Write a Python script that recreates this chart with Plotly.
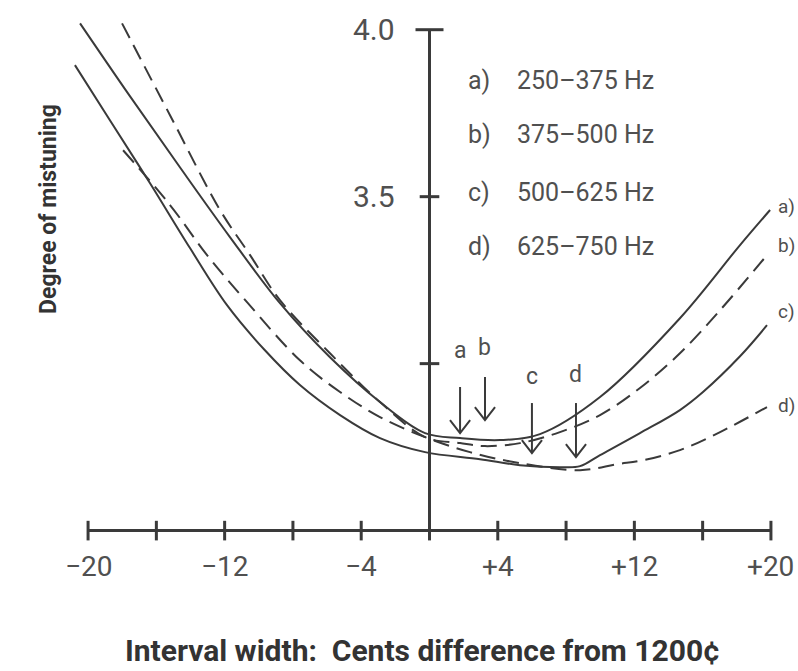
import plotly.graph_objects as go

# ---- data ----
a_x = [-20.47, -17.55, -14.62, -11.69, -8.76, -5.83, -2.90, -0.26, 1.79, 4.14, 6.47, 9.99, 14.67, 18.19, 19.95]
a_y = [4.019, 3.801, 3.588, 3.379, 3.181, 3.019, 2.885, 2.792, 2.777, 2.771, 2.789, 2.900, 3.136, 3.355, 3.460]

b_x = [-18.01, -15.20, -12.27, -10.51, -8.76, -5.83, -2.90, -0.26, 1.79, 3.25, 5.30, 7.64, 9.99, 12.33, 14.67, 17.02, 19.77]
b_y = [4.019, 3.744, 3.460, 3.325, 3.190, 3.031, 2.885, 2.780, 2.762, 2.753, 2.762, 2.795, 2.846, 2.927, 3.031, 3.160, 3.325]

c_x = [-20.77, -18.72, -16.37, -14.03, -11.86, -9.64, -7.59, -5.24, -2.90, -0.26, 2.96, 5.30, 7.64, 8.82, 9.99, 12.33, 14.67, 16.02, 18.19, 19.77]
c_y = [3.894, 3.729, 3.540, 3.346, 3.175, 3.040, 2.936, 2.846, 2.777, 2.735, 2.714, 2.696, 2.690, 2.693, 2.726, 2.792, 2.861, 2.915, 3.022, 3.115]

d_x = [-17.95, -15.20, -13.03, -10.69, -7.59, -5.24, -2.90, -0.26, 2.37, 5.30, 8.82, 10.98, 12.51, 14.67, 17.02, 19.77]
d_y = [3.639, 3.475, 3.325, 3.184, 3.010, 2.915, 2.840, 2.780, 2.735, 2.702, 2.681, 2.699, 2.711, 2.741, 2.795, 2.870]

x_ticks = [-20, -16, -12, -8, -4, 0, 4, 8, 12, 16, 20]
x_tick_labels = ["\u221220", "", "\u221212", "", "\u22124", "", "+4", "", "+12", "", "+20"]
y_ticks = [3.0, 3.5, 4.0]
y_tick_labels = ["", "3.5", "4.0"]

legend_keys = ["a)", "b)", "c)", "d)"]
legend_ranges = ["250\u2013375 Hz", "375\u2013500 Hz", "500\u2013625 Hz", "625\u2013750 Hz"]
legend_y = [3.848, 3.686, 3.511, 3.350]

end_labels = ["a)", "b)", "c)", "d)"]
end_label_y = [3.47, 3.355, 3.157, 2.876]

arrow_labels = ["a", "b", "c", "d"]
arrow_x = [1.79, 3.25, 6.00, 8.58]
arrow_top = [2.930, 2.960, 2.882, 2.882]
arrow_tip = [2.792, 2.831, 2.732, 2.720]
arrow_label_y = [3.040, 3.049, 2.960, 2.966]

x_axis_y = 2.5
y_axis_x = 0.0

FONT = "Roboto, Liberation Sans, sans-serif"
LINE = "#3a3a3a"
TEXT = "#505050"

fig = go.Figure()


def curve(x, y, dash):
    fig.add_trace(go.Scatter(x=x, y=y, mode="lines",
                             line=dict(color=LINE, width=2, dash=dash, shape="spline", smoothing=1.0),
                             hoverinfo="skip", showlegend=False))


curve(a_x, a_y, "solid")
curve(b_x, b_y, "16px,8px")
curve(c_x, c_y, "solid")
curve(d_x, d_y, "16px,8px")

# axes drawn at the origin
fig.add_trace(go.Scatter(x=[x_ticks[0], x_ticks[-1]], y=[x_axis_y, x_axis_y], mode="lines",
                         line=dict(color=LINE, width=3), hoverinfo="skip", showlegend=False))
fig.add_trace(go.Scatter(x=[y_axis_x, y_axis_x], y=[x_axis_y, y_ticks[-1]], mode="lines",
                         line=dict(color=LINE, width=3), hoverinfo="skip", showlegend=False))
fig.add_trace(go.Scatter(x=x_ticks, y=[x_axis_y] * len(x_ticks), mode="markers",
                         marker=dict(symbol="line-ns-open", size=14, color=LINE, line=dict(color=LINE, width=3)),
                         hoverinfo="skip", showlegend=False))
fig.add_trace(go.Scatter(x=[y_axis_x] * (len(y_ticks) - 1), y=y_ticks[:-1], mode="markers",
                         marker=dict(symbol="line-ew-open", size=14, color=LINE, line=dict(color=LINE, width=3)),
                         hoverinfo="skip", showlegend=False))
fig.add_trace(go.Scatter(x=[y_axis_x], y=[y_ticks[-1]], mode="markers",
                         marker=dict(symbol="line-ew-open", size=20, color=LINE, line=dict(color=LINE, width=3)),
                         hoverinfo="skip", showlegend=False))

# arrows
for xa, yt, yb in zip(arrow_x, arrow_top, arrow_tip):
    fig.add_trace(go.Scatter(x=[xa, xa, None, xa - 0.59, xa, xa + 0.59],
                             y=[yt, yb, None, yb + 0.039, yb, yb + 0.039], mode="lines",
                             line=dict(color=LINE, width=2), hoverinfo="skip", showlegend=False))

ann = []
for v, t in zip(x_ticks, x_tick_labels):
    if t:
        ann.append(dict(x=v, y=x_axis_y, xref="x", yref="y", text=t, showarrow=False,
                        yshift=-36, font=dict(family=FONT, size=28, color=TEXT)))
for v, t in zip(y_ticks, y_tick_labels):
    if t:
        ann.append(dict(x=y_axis_x, y=v, xref="x", yref="y", text=t, showarrow=False,
                        xanchor="right", xshift=-33, font=dict(family=FONT, size=30, color=TEXT)))
for k, r, yy in zip(legend_keys, legend_ranges, legend_y):
    ann.append(dict(x=2.13, y=yy, xref="x", yref="y", text=k, showarrow=False, xanchor="left",
                    font=dict(family=FONT, size=25, color=TEXT)))
    ann.append(dict(x=5.0, y=yy, xref="x", yref="y", text=r, showarrow=False, xanchor="left",
                    font=dict(family=FONT, size=25, color=TEXT)))
for t, yy in zip(end_labels, end_label_y):
    ann.append(dict(x=1.0, y=yy, xref="paper", yref="y", text=t, showarrow=False, xanchor="right",
                    xshift=9, font=dict(family=FONT, size=19, color=TEXT)))
for t, xa, yy in zip(arrow_labels, arrow_x, arrow_label_y):
    ann.append(dict(x=xa, y=yy, xref="x", yref="y", text=t, showarrow=False,
                    font=dict(family=FONT, size=23, color=TEXT)))
ann.append(dict(x=0.49, y=-0.157, xref="paper", yref="paper", yanchor="middle",
                text="<b>Interval width:  Cents difference from 1200\u00a2</b>", showarrow=False,
                font=dict(family=FONT, size=30, color="#333333")))
ann.append(dict(x=-0.054, y=0.644, xref="paper", yref="paper", textangle=-90,
                text="<b>Degree of mistuning</b>", showarrow=False,
                font=dict(family=FONT, size=23, color="#333333")))

fig.update_layout(
    width=798, height=671,
    margin=dict(l=71, r=10, t=13, b=107),
    paper_bgcolor="white", plot_bgcolor="white",
    xaxis=dict(range=[-21, 21], visible=False, fixedrange=True),
    yaxis=dict(range=[2.4, 4.05], visible=False, fixedrange=True),
    annotations=ann,
    showlegend=False,
)

fig.write_html("out.html")
